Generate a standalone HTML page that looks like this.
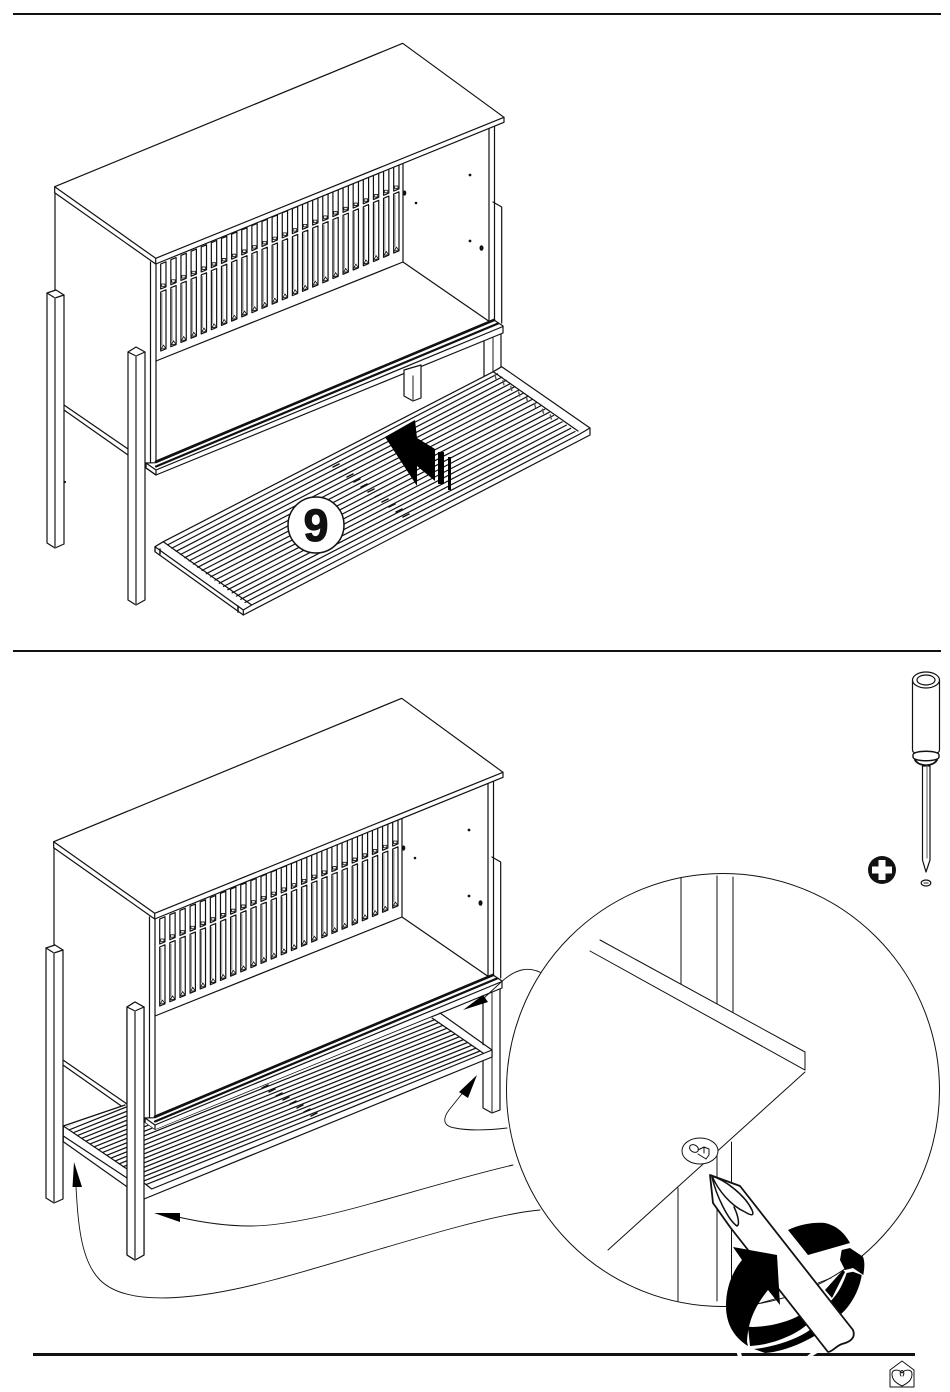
<!DOCTYPE html>
<html><head><meta charset="utf-8"><style>
html,body{margin:0;padding:0;background:#fff;width:950px;height:1392px;overflow:hidden}
svg{display:block}
</style></head><body>
<svg xmlns="http://www.w3.org/2000/svg" width="950" height="1392" viewBox="0 0 950 1392" fill="none" stroke="#111" stroke-width="1.2" stroke-linejoin="round" stroke-linecap="round">
<defs>
<g id="legA">
<path fill="#fff" d="M47 293L56 290L64 295V544L55 548L47 543Z"/>
<path d="M47 293L55 298L64 295"/>
<path stroke="#666" stroke-width="1.800" d="M55 298V547"/>
</g>
<g id="legB">
<path fill="#fff" d="M128 352L136 347L145 352V600L136 605L128 600Z"/>
<path d="M128 352L136 356L145 352"/>
<path stroke="#666" stroke-width="1.800" d="M136 356V604"/>
</g>
<g id="cab">
<path d="M55 192V292"/>
<path d="M64 405L128 449M64 410L128 455"/>
<path fill="#fff" d="M484 330V453L493 458L501 455V330Z"/>
<path stroke="#444" d="M493 330V458"/>
<path fill="#fff" d="M151 262H488V325L503 327V333L156 475L151 465Z" stroke="none"/>
<path d="M150.500 262V463M156 262V463"/>
<path d="M403 162V262M156 361L403 262L490 322"/>
<path d="M489 124V322M494.500 122V321M493 202L501.700 207V323"/>
<path stroke-width="1.200" fill="#fff" d="M160.700 264v25l5.300-2.200v-25zm10.130-4.260v25l5.300-2.200v-25zm10.130-4.260v25l5.300-2.200v-25zm10.130-4.260v25l5.300-2.200v-25zm10.130-4.260v25l5.300-2.200v-25zm10.130-4.260v25l5.300-2.200v-25zm10.130-4.260v25l5.300-2.200v-25zm10.130-4.260v25l5.300-2.200v-25zm10.130-4.260v25l5.300-2.200v-25zm10.130-4.260v25l5.300-2.200v-25zm10.130-4.260v25l5.300-2.200v-25zm10.130-4.260v25l5.300-2.200v-25zm10.130-4.260v25l5.300-2.200v-25zm10.130-4.260v25l5.300-2.200v-25zm10.130-4.260v25l5.300-2.200v-25zm10.130-4.260v25l5.300-2.200v-25zm10.130-4.260v25l5.300-2.200v-25zm10.130-4.260v25l5.300-2.200v-25zm10.130-4.260v25l5.300-2.200v-25zm10.130-4.260v25l5.300-2.200v-25zm10.130-4.260v25l5.300-2.200v-25zm10.130-4.260v25l5.300-2.200v-25zm10.130-4.260v25l5.300-2.200v-25zm10.130-4.260v25l5.300-2.200v-25z"/>
<path stroke-width="1.200" fill="#fff" d="M160.700 292v59l5.300-2.200v-59zm10.130-4.260v59l5.300-2.200v-59zm10.130-4.260v59l5.300-2.200v-59zm10.130-4.260v59l5.300-2.200v-59zm10.130-4.260v59l5.300-2.200v-59zm10.130-4.260v59l5.300-2.200v-59zm10.130-4.260v59l5.300-2.200v-59zm10.130-4.260v59l5.300-2.200v-59zm10.130-4.260v59l5.300-2.200v-59zm10.130-4.260v59l5.300-2.200v-59zm10.130-4.260v59l5.300-2.200v-59zm10.130-4.260v59l5.300-2.200v-59zm10.130-4.260v59l5.300-2.200v-59zm10.130-4.260v59l5.300-2.200v-59zm10.130-4.260v59l5.300-2.200v-59zm10.130-4.260v59l5.300-2.200v-59zm10.130-4.260v59l5.300-2.200v-59zm10.130-4.260v59l5.300-2.200v-59zm10.130-4.260v59l5.300-2.200v-59zm10.130-4.260v59l5.300-2.200v-59zm10.130-4.260v59l5.300-2.200v-59zm10.130-4.260v59l5.300-2.200v-59zm10.130-4.260v59l5.300-2.200v-59zm10.130-4.260v59l5.300-2.200v-59z"/>
<path stroke="#999" stroke-width="1" stroke-linecap="butt" d="M162 293v52m10.130-56.260v52m10.130-56.260v52m10.130-56.260v52m10.130-56.260v52m10.130-56.260v52m10.130-56.260v52m10.130-56.260v52m10.130-56.260v52m10.130-56.260v52m10.130-56.260v52m10.130-56.260v52m10.130-56.260v52m10.130-56.260v52m10.130-56.260v52m10.130-56.260v52m10.130-56.260v52m10.130-56.260v52m10.130-56.260v52m10.130-56.260v52m10.130-56.260v52m10.130-56.260v52m10.130-56.260v52m10.130-56.260v52"/>
<path stroke-width="0.800" fill="#eee" d="M161.500 286.500h3.500v-2.500h-3.500zm10.130-4.260h3.500v-2.500h-3.500zm10.130-4.260h3.500v-2.500h-3.500zm10.130-4.260h3.500v-2.500h-3.500zm10.130-4.260h3.500v-2.500h-3.500zm10.130-4.260h3.500v-2.500h-3.500zm10.130-4.260h3.500v-2.500h-3.500zm10.130-4.260h3.500v-2.500h-3.500zm10.130-4.260h3.500v-2.500h-3.500zm10.130-4.260h3.500v-2.500h-3.500zm10.130-4.260h3.500v-2.500h-3.500zm10.130-4.260h3.500v-2.500h-3.500zm10.130-4.260h3.500v-2.500h-3.500zm10.130-4.260h3.500v-2.500h-3.500zm10.130-4.260h3.500v-2.500h-3.500zm10.130-4.260h3.500v-2.500h-3.500zm10.130-4.260h3.500v-2.500h-3.500zm10.130-4.260h3.500v-2.500h-3.500zm10.130-4.260h3.500v-2.500h-3.500zm10.130-4.260h3.500v-2.500h-3.500zm10.130-4.260h3.500v-2.500h-3.500zm10.130-4.260h3.500v-2.500h-3.500zm10.130-4.260h3.500v-2.500h-3.500zm10.130-4.260h3.500v-2.500h-3.500z"/>
<path stroke-width="0.800" fill="#eee" d="M161.300 349l2-4 2.200 3v.5zm10.130-4.260l2-4 2.200 3v.5zm10.130-4.260l2-4 2.200 3v.5zm10.130-4.260l2-4 2.200 3v.5zm10.130-4.260l2-4 2.200 3v.5zm10.130-4.260l2-4 2.200 3v.5zm10.130-4.260l2-4 2.200 3v.5zm10.130-4.260l2-4 2.200 3v.5zm10.130-4.260l2-4 2.200 3v.5zm10.130-4.260l2-4 2.200 3v.5zm10.130-4.260l2-4 2.200 3v.5zm10.130-4.260l2-4 2.200 3v.5zm10.130-4.260l2-4 2.200 3v.5zm10.130-4.260l2-4 2.200 3v.5zm10.130-4.260l2-4 2.200 3v.5zm10.130-4.260l2-4 2.200 3v.5zm10.130-4.260l2-4 2.200 3v.5zm10.130-4.260l2-4 2.200 3v.5zm10.130-4.260l2-4 2.200 3v.5zm10.130-4.260l2-4 2.200 3v.5zm10.130-4.260l2-4 2.200 3v.5zm10.130-4.260l2-4 2.200 3v.5zm10.130-4.260l2-4 2.200 3v.5zm10.130-4.260l2-4 2.200 3v.5z"/>
<g fill="#111" stroke="none"><circle cx="470" cy="175" r="1.400"/><circle cx="416" cy="203" r="1.300"/><circle cx="470" cy="241" r="1.400"/><ellipse cx="481.500" cy="248" rx="2" ry="2.800"/><ellipse cx="404.500" cy="193" rx="1.800" ry="2.600"/></g>
<path fill="#fff" d="M54.700 186.700L402.700 43.300L504 117.300V122.300L155.700 264L54.700 192.700Z"/>
<path d="M54.700 186.700L155.700 258.300L504 117.300M155.700 258.300V264"/>
<path fill="#fff" d="M146 463L156 462.700L494 320L503 326V333L156 475L146 468Z"/>
<path stroke-width="2.600" d="M156 461.700L494 320"/>
<path stroke-width="2.200" d="M156 466.500L498 323.500"/>
<path d="M156 470L503 326.500M156 470V475M146 463L156 470M146 463V468L156 475"/>
<use href="#legA"/>
<use href="#legB"/>
</g>
</defs>

<rect x="13" y="13" width="928" height="2" fill="#111" stroke="none"/>
<rect x="13" y="650" width="928" height="2" fill="#111" stroke="none"/>

<!-- Panel 1 -->
<use href="#cab"/>
<circle cx="65" cy="482" r="1.100" fill="#111" stroke="none"/>
<path fill="#fff" d="M404 370V396L413 401L421 398V365Z"/>
<path stroke="#444" d="M413 376V401"/>
<path fill="#fff" d="M155 546.700L163.300 541.700L493.300 371.700L501.700 366.700L590 428V435L243.300 615L155 551.700Z"/>
<path d="M155 546.700L243.300 610V615M155 546.700V551.700M163.300 541.700L251.700 605M243.300 610L251.700 605L578 435L590 428M493.300 371.700L578 431"/>
<path stroke-width="1.200" d="M167.600 544.900l330-171m-325.700 174.200l330-171m-325.700 174.200l330-171m-325.700 174.200l330-171m-325.700 174.200l330-171m-325.700 174.200l330-171m-325.700 174.200l330-171m-325.700 174.200l330-171m-325.700 174.200l330-171m-325.700 174.200l330-171m-325.700 174.200l330-171m-325.700 174.200l330-171m-325.700 174.200l330-171m-325.700 174.200l330-171m-325.700 174.200l330-171m-325.700 174.200l330-171m-325.700 174.200l330-171m-325.700 174.200l330-171m-325.700 174.200l330-171"/>
<path stroke="#555" stroke-width="1.400" d="M495 375l1 4m6.900 1.700l1 4m6.900 1.700l1 4m6.900 1.700l1 4m6.900 1.700l1 4m6.900 1.700l1 4m6.900 1.700l1 4m6.900 1.700l1 4"/>
<path d="M160 549v5M238 606v6" stroke-width="1.500"/>
<path stroke-width="1.500" d="M333 467l6-3m1 8l6-3m1 8l6-3m1 8l6-3m1 8l6-3m1 8l6-3m1 8l6-3m1 8l6-3m1 8l6-3m1 8l6-3m1 8l6-3"/>
<circle cx="316" cy="525" r="28" fill="#fff" stroke-width="1.500"/>
<text x="316" y="541" text-anchor="middle" font-family="'Liberation Sans',sans-serif" font-size="45" font-weight="700" fill="#111" stroke="#111" stroke-width="1">9</text>
<path fill="#000" stroke="none" d="M385 437L415 420L417 438L435 449V481L417 466V486Z"/>
<rect x="438" y="452" width="6" height="32" fill="#000" stroke="none"/>
<rect x="448" y="457" width="3" height="33" fill="#000" stroke="none"/>

<!-- Panel 2 -->
<g transform="translate(-1,655)"><use href="#cab"/></g>
<path fill="#fff" stroke="none" d="M63 1126L125 1105L145 1123L155 1130L432 1017L492 1050V1057L144 1199L63 1141.700Z"/>
<clipPath id="sl"><path d="M66 1127L125 1105L145 1123L155 1130L432 1017L483 1053L151.700 1189L127 1170Z"/></clipPath>
<path clip-path="url(#sl)" stroke-width="1.200" d="M60 1129l440-176m-440 180.500l440-176m-440 180.500l440-176m-440 180.500l440-176m-440 180.500l440-176m-440 180.500l440-176m-440 180.500l440-176m-440 180.500l440-176m-440 180.500l440-176m-440 180.500l440-176m-440 180.500l440-176m-440 180.500l440-176m-440 180.500l440-176m-440 180.500l440-176m-440 180.500l440-176m-440 180.500l440-176m-440 180.500l440-176m-440 180.500l440-176m-440 180.500l440-176m-440 180.500l440-176m-440 180.500l440-176"/>
<path d="M63.300 1126L127 1169M63.300 1136L127 1178M63.300 1141.700L127 1186.700M144 1199L492 1057V1050L151.700 1189L144 1183M440 1013L492 1050M432 1018L483 1053M63.300 1126L125 1105M63.300 1126V1141.700"/>
<path stroke-width="1.500" d="M262 1088l6-3m1 7l6-3m1 7l6-3m1 7l6-3m1 7l6-3m1 7l6-3m1 7l6-3m1 7l6-3"/>
<g transform="translate(-1,655)"><use href="#legB"/></g>

<!-- connectors -->
<g stroke-width="0.900">
<path d="M545 975C530 965 515 968 498 985L484 998"/>
<path d="M507 1128C490 1130 470 1131 455 1128C442 1126 443 1118 449 1110L465 1090"/>
<path d="M513 1165C470 1175 420 1190 373 1203C320 1218 280 1226 250 1226C225 1226 200 1222 178 1217"/>
<path d="M540 1210C480 1215 350 1260 273 1280C210 1297 130 1310 100 1280C80 1260 78 1220 76 1187"/>
</g>
<g fill="#000" stroke="none">
<path d="M463 1010L483 995L488 1002Z"/>
<path d="M477 1075L459 1092L468 1098Z"/>
<path d="M154 1213L180 1213L180 1222Z"/>
<path d="M74 1162L72.500 1187L82 1187Z"/>
</g>

<!-- detail circle -->
<circle cx="723" cy="1090" r="216.500" fill="#fff" stroke-width="1"/>
<g stroke-width="1">
<path d="M681 878V984M717 876V1004M733 877V1012"/>
<path d="M600 940L805 1052V1070L590 951M805 1072L608 1250"/>
<path d="M678 1188V1301M717 1155V1301M731.500 1142V1280"/>
</g>
<ellipse cx="700" cy="1151" rx="18" ry="13" fill="#fff" stroke-width="1"/>
<path d="M690 1146a4 3 30 1 1 8 5a4 3 30 1 1-8-5zM698 1150l6-3 5 2v6l-3 4-8-5M704 1147v6" stroke-width="1"/>

<!-- bottom rule -->
<rect x="33" y="1353" width="882" height="3" fill="#111" stroke="none"/>
<path d="M736.500 1352H741L742 1357H738Z" fill="#fff" stroke="none"/>
<path d="M812 1352H819L811 1357H806Z" fill="#fff" stroke="none"/>

<!-- rotation arrow -->
<g fill="#000" stroke="none">
<path d="M788 1230C800 1224 815 1222 825 1223C838 1226 845 1234 850 1243L808 1255Z"/>
<path d="M841.700 1250L850 1248L863 1256.700C865 1262 864.500 1268 863.300 1275L853 1268L845 1270L840 1260Z"/>
<path d="M846.700 1273L853 1271.700L861.700 1275C860 1288 852 1305 840 1315L830 1301.700C838 1294 843 1284 846.700 1273Z"/>
<path d="M825 1290L843 1270L845 1272L832 1298Z"/>
<path d="M748 1326.700C760 1328 785 1324 800 1315L806.700 1325C795 1335 772 1345 750 1346Z"/>
<path d="M754 1349C775 1347 800 1338 811 1329L816 1335C800 1345 780 1352 765 1353Z"/>
</g>
<path stroke-width="0.900" d="M818 1283L831 1278"/>
<!-- driver -->
<path fill="#fff" stroke-width="1.800" d="M710 1175L740 1186L853 1330C856 1338 850 1342 842 1344C836 1346 832 1352 828 1352L730 1227L713 1203Z"/>
<path stroke-width="1.500" d="M712 1176C725 1180 745 1195 752 1210C755 1217 750 1215 745 1212C730 1205 718 1190 712 1176M712 1177C716 1195 728 1220 737 1226C740 1225 738 1215 734 1207"/>
<path fill="#000" stroke="none" d="M733 1247L777 1255L780 1305L768 1290C756 1305 748 1320 747 1342L748 1346C735 1338 726 1325 726 1306C726 1288 732 1272 742 1260Z"/>
<path stroke-width="0.900" d="M761.700 1302.700L778 1298"/>

<!-- small screwdriver -->
<g stroke-width="1.200">
<path fill="#fff" d="M912.500 680V750C912.500 757 939.500 757 939.500 750V680Z"/>
<ellipse cx="926" cy="680" rx="13.500" ry="8" fill="#fff"/>
<ellipse cx="926" cy="680" rx="9" ry="5"/>
<path fill="#fff" stroke-width="1.400" d="M913 757C913 762 939 762 939 757V755C939 750 913 750 913 755Z"/>
<path stroke-width="1.800" d="M915 760C919 767 933 767 937 760"/>
<path fill="#fff" d="M922.500 766V860L926 872L930 860V766Z"/>
<path stroke="#777" d="M927 766V858"/>
<ellipse cx="926" cy="883" rx="4.800" ry="3"/>
<path stroke="#555" d="M924 883h4"/>
</g>
<circle cx="882" cy="870" r="14" fill="#111" stroke="none"/>
<rect x="878.500" y="860" width="7" height="20" fill="#fff" stroke="none"/>
<rect x="872" y="866.500" width="20" height="7" fill="#fff" stroke="none"/>

<!-- logo -->
<path stroke-width="1" d="M890 1370L902 1361L914 1370V1387H890ZM902 1386C896 1383 892 1380 892 1374C892 1369 899 1369 902 1373C905 1369 912 1369 912 1374C912 1380 908 1383 902 1386ZM901 1376a1.800 3 0 1 1 2 0"/>
</svg>
</body></html>
